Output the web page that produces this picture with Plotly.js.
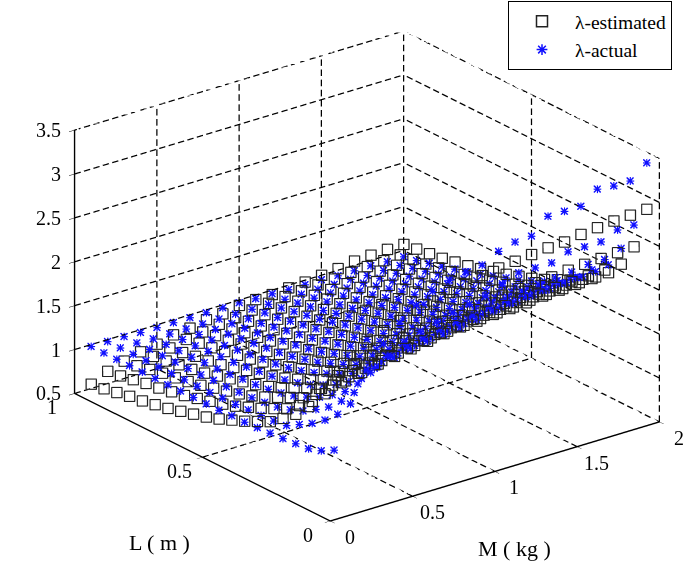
<!DOCTYPE html>
<html><head><meta charset="utf-8">
<script src="https://cdn.plot.ly/plotly-3.0.1.min.js"></script>
<style>html,body{margin:0;padding:0;background:#fff}#c{width:685px;height:561px}</style>
</head><body><div id="c"></div>
<script>
const massValues = [0.1,0.2,0.3,0.4,0.5,0.6,0.7,0.8,0.9,1.0,1.1,1.2,1.3,1.4,1.5,1.6,1.7,1.8,1.9,2.0];
const lengthValues = [0.05,0.1,0.15,0.2,0.25,0.3,0.35,0.4,0.45,0.5,0.55,0.6,0.65,0.7,0.75,0.8,0.85,0.9,0.95,1.0];
const massTicks = [0,0.5,1,1.5,2];
const lengthTicks = [0,0.5,1];
const lambdaTicks = [0.5,1,1.5,2,2.5,3,3.5];
// one row per length value, one column per mass value
const lambdaActual = [
[1.18,1.65,1.98,2.22,2.40,2.55,2.65,2.72,2.76,2.78,2.88,2.93,2.94,3.11,3.11,3.11,3.25,3.23,3.23,3.38],
[1.10,1.46,1.65,1.82,1.95,2.05,2.12,2.17,2.22,2.26,2.30,2.38,2.45,2.45,2.45,2.52,2.52,2.52,2.60,2.60],
[1.05,1.32,1.48,1.62,1.74,1.82,1.87,1.91,1.95,1.98,2.00,2.04,2.08,2.10,2.13,2.15,2.16,2.19,2.19,2.26],
[1.035,1.21,1.34,1.46,1.55,1.63,1.68,1.72,1.75,1.77,1.79,1.83,1.87,1.90,1.92,1.94,1.96,1.97,2.00,2.00],
[1.02,1.125,1.24,1.35,1.44,1.51,1.56,1.60,1.63,1.66,1.68,1.71,1.74,1.76,1.78,1.80,1.81,1.83,1.84,1.85],
[1.01,1.04,1.15,1.25,1.34,1.41,1.46,1.50,1.53,1.55,1.57,1.60,1.63,1.64,1.66,1.67,1.69,1.70,1.71,1.72],
[1.00,1.02,1.09,1.18,1.26,1.33,1.38,1.42,1.44,1.47,1.49,1.51,1.54,1.55,1.57,1.58,1.59,1.60,1.61,1.62],
[0.99,1.01,1.05,1.12,1.19,1.26,1.31,1.34,1.37,1.39,1.41,1.44,1.46,1.47,1.49,1.50,1.51,1.51,1.52,1.53],
[0.99,1.00,1.03,1.08,1.14,1.20,1.25,1.28,1.31,1.33,1.35,1.37,1.39,1.40,1.41,1.42,1.43,1.44,1.44,1.45],
[0.98,0.99,1.01,1.05,1.10,1.15,1.19,1.23,1.26,1.28,1.29,1.31,1.33,1.34,1.35,1.36,1.36,1.37,1.37,1.38],
[0.98,0.99,1.00,1.03,1.07,1.11,1.15,1.18,1.21,1.23,1.25,1.26,1.28,1.29,1.29,1.30,1.31,1.31,1.31,1.32],
[0.98,0.98,0.99,1.02,1.05,1.08,1.11,1.14,1.17,1.19,1.21,1.22,1.23,1.24,1.25,1.25,1.26,1.26,1.26,1.27],
[0.98,0.98,0.99,1.00,1.03,1.06,1.08,1.11,1.13,1.15,1.17,1.18,1.19,1.20,1.20,1.21,1.21,1.21,1.22,1.22],
[0.98,0.98,0.98,0.99,1.01,1.04,1.06,1.08,1.10,1.11,1.13,1.14,1.15,1.15,1.16,1.16,1.16,1.17,1.17,1.17],
[0.98,0.98,0.98,0.99,1.00,1.02,1.04,1.05,1.07,1.08,1.09,1.10,1.10,1.11,1.11,1.12,1.12,1.12,1.12,1.12],
[0.98,0.98,0.98,0.98,0.99,1.00,1.02,1.03,1.04,1.05,1.06,1.06,1.07,1.07,1.07,1.08,1.08,1.08,1.08,1.08],
[0.98,0.98,0.98,0.98,0.98,0.99,1.00,1.01,1.01,1.02,1.03,1.03,1.03,1.04,1.04,1.04,1.04,1.04,1.04,1.04],
[0.98,0.98,0.98,0.98,0.98,0.98,0.98,0.99,0.99,1.00,1.00,1.00,1.00,1.00,1.00,1.00,1.00,1.00,1.00,1.00],
[0.98,0.98,0.98,0.97,0.97,0.97,0.97,0.97,0.97,0.97,0.97,0.97,0.97,0.97,0.97,0.97,0.96,0.96,0.96,0.96],
[0.98,0.98,0.98,0.97,0.97,0.97,0.97,0.97,0.97,0.97,0.96,0.96,0.95,0.95,0.95,0.94,0.94,0.94,0.93,0.93]
];
const lambdaEstimated = [
[2.07,2.20,2.30,2.37,2.43,2.49,2.54,2.58,2.62,2.66,2.69,2.71,2.73,2.75,2.76,2.79,2.81,2.83,2.84,2.85],
[1.81,1.90,1.97,2.02,2.06,2.10,2.13,2.16,2.19,2.22,2.24,2.25,2.27,2.28,2.29,2.31,2.32,2.33,2.34,2.35],
[1.53,1.62,1.69,1.74,1.78,1.83,1.86,1.89,1.92,1.94,1.96,1.98,2.00,2.01,2.02,2.04,2.05,2.06,2.07,2.08],
[1.37,1.46,1.53,1.58,1.62,1.66,1.69,1.72,1.75,1.78,1.80,1.81,1.83,1.84,1.85,1.87,1.88,1.89,1.90,1.91],
[1.25,1.34,1.41,1.46,1.50,1.54,1.57,1.60,1.63,1.66,1.68,1.69,1.71,1.72,1.73,1.75,1.76,1.77,1.78,1.79],
[1.14,1.23,1.30,1.35,1.39,1.44,1.47,1.50,1.53,1.55,1.57,1.59,1.61,1.62,1.63,1.65,1.66,1.67,1.68,1.69],
[1.07,1.16,1.23,1.28,1.32,1.36,1.39,1.42,1.45,1.48,1.50,1.51,1.53,1.54,1.55,1.57,1.58,1.59,1.60,1.61],
[1.00,1.09,1.16,1.21,1.25,1.29,1.32,1.35,1.38,1.41,1.43,1.44,1.46,1.47,1.48,1.50,1.51,1.52,1.53,1.54],
[0.94,1.03,1.09,1.14,1.18,1.23,1.26,1.28,1.31,1.34,1.36,1.37,1.39,1.40,1.41,1.43,1.44,1.45,1.46,1.47],
[0.88,0.97,1.03,1.08,1.12,1.17,1.20,1.22,1.25,1.28,1.30,1.31,1.33,1.34,1.35,1.37,1.38,1.39,1.40,1.41],
[0.83,0.92,0.98,1.03,1.07,1.12,1.15,1.17,1.20,1.23,1.25,1.26,1.28,1.29,1.30,1.32,1.33,1.34,1.35,1.36],
[0.79,0.88,0.94,0.99,1.03,1.07,1.10,1.13,1.15,1.18,1.20,1.22,1.23,1.24,1.25,1.27,1.28,1.29,1.30,1.31],
[0.75,0.84,0.90,0.95,0.99,1.03,1.06,1.09,1.11,1.14,1.16,1.18,1.19,1.20,1.21,1.23,1.24,1.25,1.26,1.27],
[0.71,0.80,0.86,0.91,0.95,0.99,1.02,1.05,1.07,1.10,1.12,1.14,1.15,1.16,1.17,1.19,1.20,1.21,1.22,1.23],
[0.68,0.77,0.83,0.87,0.91,0.96,0.99,1.01,1.04,1.06,1.08,1.10,1.11,1.12,1.13,1.15,1.16,1.17,1.18,1.19],
[0.65,0.74,0.80,0.84,0.88,0.93,0.96,0.98,1.01,1.03,1.05,1.07,1.08,1.09,1.10,1.12,1.13,1.14,1.15,1.16],
[0.63,0.72,0.78,0.82,0.86,0.90,0.93,0.96,0.98,1.00,1.03,1.04,1.06,1.07,1.08,1.09,1.11,1.12,1.12,1.13],
[0.60,0.69,0.75,0.79,0.83,0.88,0.91,0.93,0.96,0.98,1.00,1.02,1.03,1.04,1.05,1.07,1.08,1.09,1.10,1.11],
[0.57,0.66,0.72,0.77,0.81,0.85,0.88,0.91,0.93,0.96,0.98,1.00,1.01,1.02,1.03,1.05,1.06,1.07,1.08,1.09],
[0.55,0.64,0.70,0.75,0.78,0.83,0.85,0.89,0.90,0.94,0.95,0.95,0.97,0.98,1.00,1.02,1.05,1.06,1.07,1.07]
];

const FONT = 'Liberation Serif, Times New Roman, serif';
const xMin = massTicks[0], xMax = massTicks[massTicks.length-1];
const yMin = lengthTicks[0], yMax = lengthTicks[lengthTicks.length-1];
const zMin = lambdaTicks[0], zMax = lambdaTicks[lambdaTicks.length-1];

function flatten(rows){
  const X=[],Y=[],Z=[];
  rows.forEach((row,j)=>row.forEach((v,i)=>{X.push(massValues[i]);Y.push(lengthValues[j]);Z.push(v);}));
  return {x:X,y:Y,z:Z};
}
// dashed grid: each guide is cut into short solid pieces; period is about 10 px on screen
const g={x:[],y:[],z:[]};
const pxPerUnit=[[166,-50],[-257,-128],[0,-88]];
function seg(a,b){
  const d=[b[0]-a[0],b[1]-a[1],b[2]-a[2]];
  const sx=d[0]*pxPerUnit[0][0]+d[1]*pxPerUnit[1][0];
  const sy=d[0]*pxPerUnit[0][1]+d[1]*pxPerUnit[1][1]+d[2]*pxPerUnit[2][1];
  const n=Math.max(1,Math.round(Math.hypot(sx,sy)/10));
  for(let i=0;i<n;i++){
    const t0=i/n,t1=(i+0.65)/n;
    g.x.push(a[0]+d[0]*t0,a[0]+d[0]*t1,null);
    g.y.push(a[1]+d[1]*t0,a[1]+d[1]*t1,null);
    g.z.push(a[2]+d[2]*t0,a[2]+d[2]*t1,null);
  }
}
massTicks.forEach(m=>{ if(m!==xMin){ seg([m,yMin,zMin],[m,yMax,zMin]); seg([m,yMax,zMin],[m,yMax,zMax]); } });
lengthTicks.forEach(l=>{ seg([xMin,l,zMin],[xMax,l,zMin]); seg([xMax,l,zMin],[xMax,l,zMax]); });
lambdaTicks.forEach(z=>{ seg([xMin,yMax,z],[xMax,yMax,z]); seg([xMax,yMin,z],[xMax,yMax,z]); });

const est=flatten(lambdaEstimated), act=flatten(lambdaActual);
const BLUE='#1010ff';
const traces=[
 {type:'scatter3d',mode:'lines',x:g.x,y:g.y,z:g.z,line:{color:'#000',width:2.5},showlegend:false,hoverinfo:'skip',connectgaps:false},
 Object.assign({type:'scatter3d',mode:'markers',name:'λ-estimated',showlegend:false,marker:{symbol:'square-open',size:4.6,color:'#222',line:{color:'#222',width:1}}},est),
 Object.assign({type:'scatter3d',mode:'text',name:'λ-actual',showlegend:false,text:'+',textposition:'middle center',textfont:{family:'Liberation Sans',size:16,color:BLUE}},act),
 Object.assign({type:'scatter3d',mode:'markers',name:'λ-actual',showlegend:false,marker:{symbol:'x',size:1.7,color:BLUE}},act),
 {type:'scatter',mode:'markers',name:'λ-estimated',x:[null],y:[null],marker:{symbol:'square-open',size:11,color:'#222',line:{color:'#222',width:1.5}}},
 {type:'scatter',mode:'markers',name:'λ-actual',x:[null],y:[null],marker:{symbol:'asterisk-open',size:9,color:BLUE,line:{color:BLUE,width:1.5}}}
];
const ann=[];
function lab(x,y,z,t,xs,ys,xa,sz){ann.push({x,y,z,text:t,showarrow:false,xshift:xs,yshift:ys,xanchor:xa||'center',yanchor:'middle',font:{family:FONT,size:sz||20,color:'#000'}});}
lambdaTicks.forEach(v=>lab(xMin,yMax,Math.min(v,zMax-0.001),String(v),-11,0,'right'));
lengthTicks.forEach(v=>lab(xMin,v,zMin,String(v),-22,-14));
massTicks.forEach(v=>lab(v,yMin,zMin,String(v),20,-16));
lab(xMin,0.5,zMin,'L ( m )',-42,-85,'center',22);
lab(1,yMin,zMin,'M ( kg )',20,-77,'center',22);

function ax(r,t){return {range:r,tickmode:'array',tickvals:t,showticklabels:false,showgrid:false,zeroline:false,showbackground:false,showspikes:false,
  showline:true,linecolor:'#000',linewidth:3,ticks:'outside',ticklen:7,tickcolor:'#000',tickwidth:1,title:{text:''},autorange:false};}
const layout={
 width:685,height:561,margin:{l:0,r:0,t:0,b:0},paper_bgcolor:'#fff',plot_bgcolor:'rgba(0,0,0,0)',showlegend:true,
 font:{family:FONT,size:20,color:'#000'},
 xaxis:{visible:false},yaxis:{visible:false},
 legend:{x:508/685,y:1-1/561,xanchor:'left',yanchor:'top',bgcolor:'#fff',bordercolor:'#000',borderwidth:1,itemwidth:56,entrywidth:116,entrywidthmode:'pixels',font:{family:FONT,size:19.5,color:'#000'},tracegroupgap:0},
 scene:{
  domain:{x:[(366.5-310)/685,(366.5+310)/685],y:[1-(276+276)/561,1-(276-276)/561]},
  xaxis:ax([xMin,xMax],massTicks),yaxis:ax([yMin,yMax],lengthTicks),zaxis:ax([zMin,zMax],lambdaTicks),
  aspectmode:'manual',aspectratio:{x:1.51,y:1.51,z:1.035},
  camera:{projection:{type:'orthographic'},up:{x:0,y:0,z:1},center:{x:0,y:0,z:0},eye:{x:-1.08,y:-1.39,z:0.74}},
  annotations:ann
 }
};
Plotly.newPlot('c',traces,layout,{displayModeBar:false});
</script></body></html>
